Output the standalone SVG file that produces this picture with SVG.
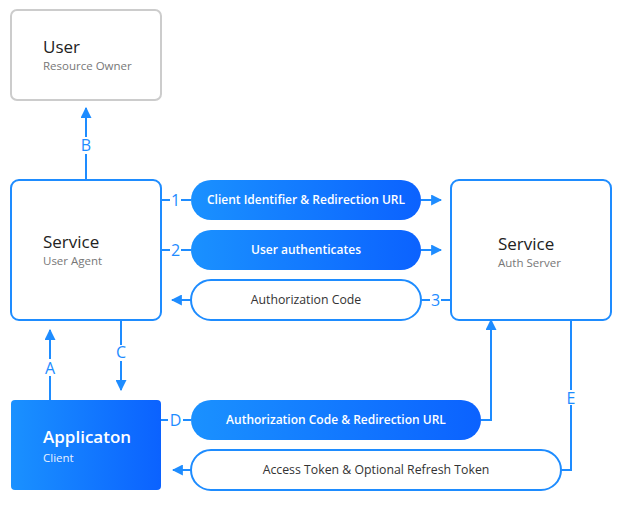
<svg xmlns="http://www.w3.org/2000/svg" width="623" height="505" viewBox="0 0 623 505">
<defs>
<linearGradient id="g" x1="0" y1="0" x2="1" y2="0">
<stop offset="0" stop-color="#1a91ff"/>
<stop offset="1" stop-color="#0b62ff"/>
</linearGradient>
<marker id="ah" viewBox="0 0 10 10" refX="9" refY="5" markerWidth="11" markerHeight="11" markerUnits="userSpaceOnUse" orient="auto">
<path d="M0,0 L10,5 L0,10 z" fill="#1e8cff"/>
</marker>
<style>
text{font-family:"Open Sans","Liberation Sans",sans-serif}
.ln{stroke:#1e8cff;stroke-width:2;fill:none}
.lb{fill:#1e8cff;font-size:16px;text-anchor:middle}
.t1{font-size:17px;fill:#222}
.t2{font-size:11.5px;fill:#777}
.pf{fill:url(#g)}
.pw{fill:#fff;stroke:#1e8cff;stroke-width:2}
.wt{fill:#fff;font-size:12px;font-weight:600;text-anchor:middle}
.dt{fill:#333;font-size:12.3px;text-anchor:middle}
</style>
</defs>
<g id="connectors">
<path class="ln" d="M86,180 V154 M86,137 V108" marker-end="url(#ah)"/>
<text class="lb" x="86" y="151">B</text>
<path class="ln" d="M161,200 H170 M181,200 H191"/>
<text class="lb" x="175.5" y="206">1</text>
<path class="ln" d="M421,200 H441" marker-end="url(#ah)"/>
<path class="ln" d="M161,250 H170 M181,250 H191"/>
<text class="lb" x="175.5" y="256">2</text>
<path class="ln" d="M421,250 H441" marker-end="url(#ah)"/>
<path class="ln" d="M191,300 H172" marker-end="url(#ah)"/>
<path class="ln" d="M421,300 H430 M441,300 H451"/>
<text class="lb" x="435.5" y="306">3</text>
<path class="ln" d="M50,400 V376 M50,359 V330" marker-end="url(#ah)"/>
<text class="lb" x="50" y="373.5">A</text>
<path class="ln" d="M121,320 V345 M121,361 V390" marker-end="url(#ah)"/>
<text class="lb" x="121" y="357.5">C</text>
<path class="ln" d="M161,420 H168 M183,420 H191"/>
<text class="lb" x="175.5" y="426">D</text>
<path class="ln" d="M481,420 H491 V320" marker-end="url(#ah)"/>
<path class="ln" d="M561,470 H571 V405 M571,390 V320"/>
<text class="lb" x="571" y="403.5">E</text>
<path class="ln" d="M191,470 H173" marker-end="url(#ah)"/>
</g>
<g id="user">
<rect x="11" y="10" width="150" height="90" rx="6" fill="#fff" stroke="#cccccc" stroke-width="2"/>
<text class="t1" x="43" y="53">User</text>
<text class="t2" x="43" y="70">Resource Owner</text>
</g>
<g id="user-agent">
<rect x="11" y="180" width="150" height="140" rx="8" fill="#fff" stroke="#1e8cff" stroke-width="2"/>
<text class="t1" x="43" y="248">Service</text>
<text class="t2" x="43" y="265">User Agent</text>
</g>
<g id="auth-server">
<rect x="451" y="180" width="160" height="140" rx="8" fill="#fff" stroke="#1e8cff" stroke-width="2"/>
<text class="t1" x="498" y="250">Service</text>
<text class="t2" x="498" y="267">Auth Server</text>
</g>
<g id="application">
<rect x="11" y="400" width="150" height="90" rx="4" class="pf"/>
<text x="43" y="443" fill="#fff" font-size="17" font-weight="600">Applicaton</text>
<text x="43" y="462" fill="#e8f0ff" font-size="11.5">Client</text>
</g>
<g id="msg1">
<rect x="191" y="180" width="230" height="40" rx="20" class="pf"/>
<text class="wt" x="306" y="204">Client Identifier &amp; Redirection URL</text>
</g>
<g id="msg2">
<rect x="191" y="230" width="230" height="40" rx="20" class="pf"/>
<text class="wt" x="306" y="254">User authenticates</text>
</g>
<g id="msg3">
<rect x="191" y="280" width="230" height="40" rx="20" class="pw"/>
<text class="dt" x="306" y="304">Authorization Code</text>
</g>
<g id="msgD">
<rect x="191" y="400" width="290" height="40" rx="20" class="pf"/>
<text class="wt" x="336" y="424">Authorization Code &amp; Redirection URL</text>
</g>
<g id="msgE">
<rect x="191" y="450" width="370" height="40" rx="20" class="pw"/>
<text class="dt" x="376" y="474">Access Token &amp; Optional Refresh Token</text>
</g>
</svg>
